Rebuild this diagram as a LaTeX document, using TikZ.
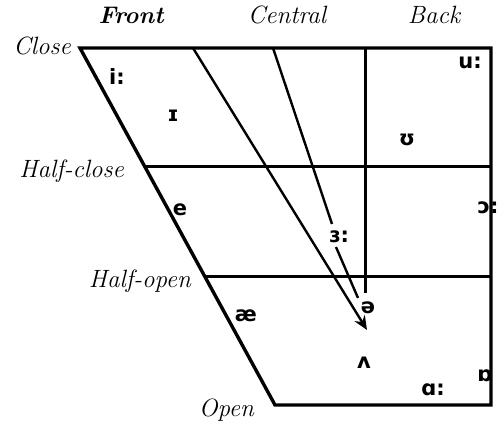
\documentclass[tikz,border=0pt]{standalone}
\usepackage{fontspec}
\newfontfamily\ipa{DejaVu Sans}
\usetikzlibrary{arrows.meta}
\tikzset{
  frame/.style={line width=3.4pt, line join=miter},
  grid/.style={line width=3pt},
  thin/.style={line width=2.4pt},
  vw/.style={font=\ipa\bfseries\fontsize{21}{25}\selectfont, inner sep=0pt},
  rowlab/.style={font=\itshape\fontsize{25}{29}\selectfont, anchor=east, inner sep=0pt},
  collab/.style={font=\itshape\fontsize{25}{29}\selectfont, inner sep=0pt}
}
\begin{document}
\begin{tikzpicture}[x=1pt,y=-1pt]
\useasboundingbox (0,0) rectangle (499,430);
% corners
\coordinate (TL) at (80,48);
\coordinate (TR) at (491,48);
\coordinate (BR) at (491,405);
\coordinate (BL) at (275,405);
\coordinate (HCL) at (145,167);
\coordinate (HCR) at (491,167);
\coordinate (HOL) at (205,277);
\coordinate (HOR) at (491,277);
\coordinate (VT) at (365,48);
\coordinate (VB) at (365,293);
\coordinate (AT) at (193,48);
\coordinate (AB) at (367,330);
\coordinate (BT) at (273,48);
\coordinate (BM1) at (332,224);
\coordinate (BM2) at (336,247);
\coordinate (BB) at (358,298);
% frame
\draw[frame] (TL) -- (TR) -- (BR) -- (BL) -- cycle;
\draw[grid] (HCL) -- (HCR);
\draw[grid] (HOL) -- (HOR);
\draw[grid] (VT) -- (VB);
\draw[thin,-{Stealth[length=14pt,width=12pt]}] (AT) -- (AB);
\draw[thin] (BT) -- (BM1);
\draw[thin] (BM2) -- (BB);
% column labels
\node[collab, font=\bfseries\itshape\fontsize{24}{28}\selectfont] (front) at (131,15) {Front};
\node[collab] (central) at (287,15) {Central};
\node[collab] (back) at (434,15) {Back};
% row labels
\node[rowlab] (close) at (71,46) {Close};
\node[rowlab] (halfclose) at (124,171) {Half-close};
\node[rowlab] (halfopen) at (191,281) {Half-open};
\node[rowlab] (open) at (254,410) {Open};
% vowels
\node[vw] (iI) at (117,77) {i:};
\node[vw] (ii) at (173,116) {ɪ};
\node[vw] (uu) at (470,63) {u:};
\node[vw] (uU) at (407,140) {ʊ};
\node[vw] (ee) at (180,210) {e};
\node[vw] (er) at (339,237) {ɜ:};
\node[vw] (oo) at (488,208) {ɔ:};
\node[vw] (schwa) at (368,308) {ə};
\node[vw] (ae) at (246,316) {æ};
\node[vw] (vv) at (364,363) {ʌ};
\node[vw] (aa) at (433,390) {ɑ:};
\node[vw] (ob) at (485,376) {ɒ};
\end{tikzpicture}
\end{document}
